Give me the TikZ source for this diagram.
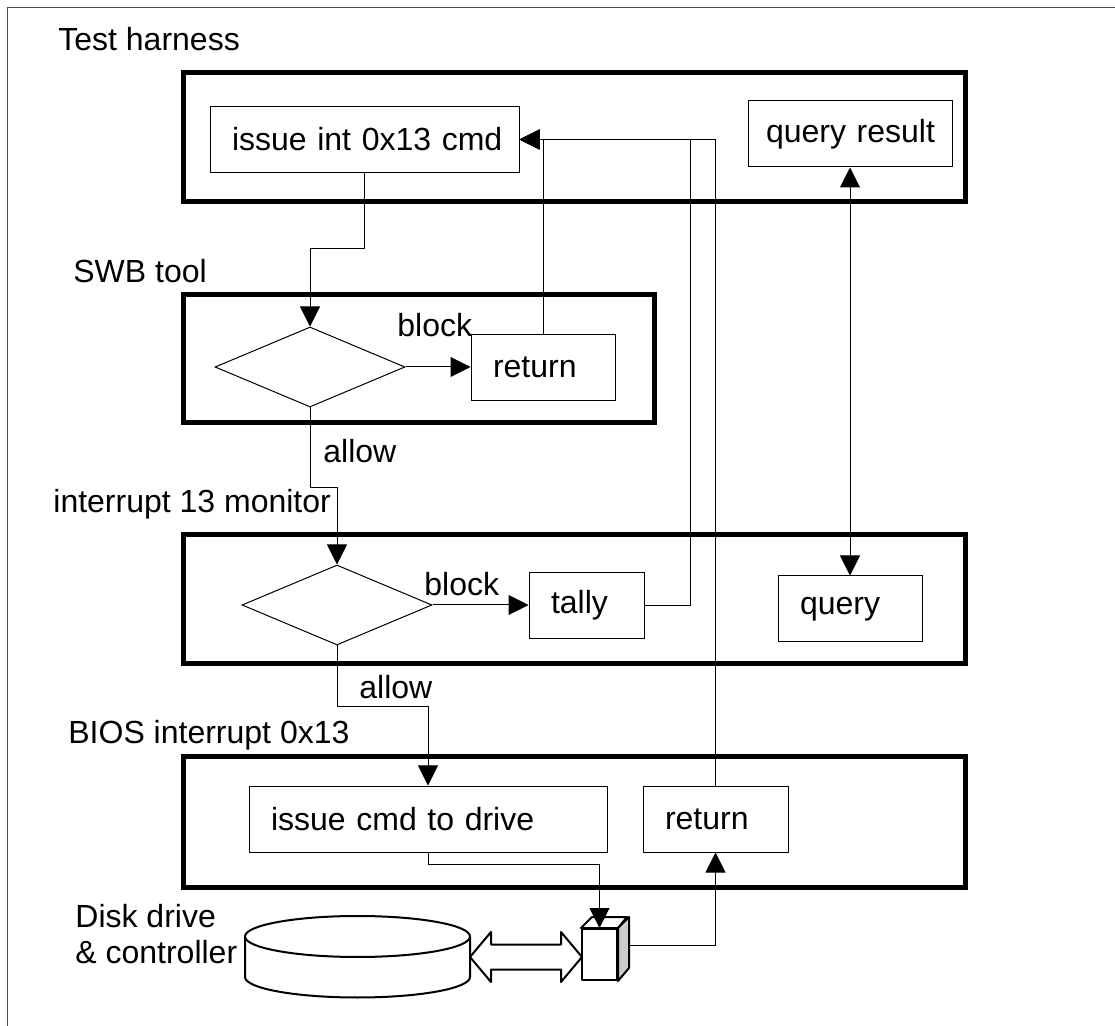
\documentclass[tikz,border=0pt]{standalone}
\usepackage{fontspec}
\setmainfont{Liberation Sans}
\usetikzlibrary{arrows.meta, shapes.geometric}

\tikzset{
    frame/.style = {line width = 2.5pt},
    box/.style = {draw, line width = .5pt, text width = #1, align = left, inner xsep = 11pt, inner ysep = 0pt, minimum height = 33pt,
        execute at begin node = \hbox\bgroup, execute at end node = \egroup},
    decide/.style = {diamond, draw, line width = .5pt, inner sep = 0pt, minimum width = 95pt, minimum height = 40pt},
    tag/.style = {anchor = base west, inner sep = 0pt},
    arr/.style = {line width = .5pt, -{Triangle[length = 10pt, width = 10pt]}},
    arrs/.style = {line width = .5pt, {Triangle[length = 10pt, width = 10pt]}-{Triangle[length = 10pt, width = 10pt]}},
    hw/.style = {line width = 1pt, fill = white, line join = round}
}

\begin{document}
\begin{tikzpicture}[x = .5pt, y = -.5pt, font = \fontsize{16}{18}\selectfont]
        \useasboundingbox (0, 0) rectangle (1115, 1026);
        \draw [line width = .5pt, black!70] (7, 1026) -- (7, 8) -- (1115, 8);
        % layers
        \draw [frame] (183, 73) rectangle (965, 202);
        \draw [frame] (183, 295) rectangle (654, 423);
        \draw [frame] (183, 535) rectangle (965, 664);
        \draw [frame] (183, 757) rectangle (965, 887);
        \node [tag] (thTag) at (58, 51) {Test harness};
        \node [tag] (swbTag) at (73, 283) {SWB tool};
        \node [tag] (monTag) at (53, 513) {interrupt 13 monitor};
        \node [tag] (biosTag) at (68, 743) {BIOS interrupt 0x13};
        \node [tag] (diskTag) at (75, 927) {Disk drive};
        \node [tag] (ctlTag) at (75, 963) {\& controller};
        % steps
        \node [box = 132.5pt] (issue) at (364.5, 139.5) {issue int 0x13 cmd};
        \node [box = 84pt, inner xsep = 9pt] (qres) at (850, 134) {query result};
        \node [decide] (d1) at (310, 367) {};
        \node [box = 50pt] (ret1) at (543, 367.5) {return};
        \node [decide] (d2) at (337, 605) {};
        \node [box = 35.5pt] (tally) at (586.5, 605.5) {tally};
        \node [box = 50pt] (query) at (850, 609) {query};
        \node [box = 157pt] (drive) at (428, 819) {issue cmd to drive};
        \node [box = 50.5pt] (ret2) at (715.5, 819) {return};
        \node [tag] (block1) at (397, 337) {block};
        \node [tag] (allow1) at (323, 463) {allow};
        \node [tag] (block2) at (424, 596) {block};
        \node [tag] (allow2) at (359, 698) {allow};
        % disk and controller
        \draw [hw] (245, 936.5) -- (245, 977) arc (180:360:56.25pt and 10.25pt) -- (470, 936.5);
        \draw [hw] (357.5, 936.5) ellipse (56.25pt and 10.25pt);
        \coordinate (disk) at (470, 957);
        \node [hw, draw, minimum width = 17.5pt, minimum height = 25.5pt, inner sep = 0pt] (ctl) at (599.5, 954.5) {};
        \draw [hw] (ctl.north west) -- ++(11, -11) -- ++(35, 0) -- (ctl.north east) -- cycle;
        \draw [hw, fill = gray!40] (ctl.north east) -- ++(11, -11) -- ++(0, 51) -- (ctl.south east) -- cycle;
        \begin{scope}[shift = {(disk)}]
            \draw [hw] (0, 0) -- (21, -25) -- (21, -12.5) -- (91, -12.5) -- (91, -25) -- (112, 0) -- (91, 25) -- (91, 12.5) -- (21, 12.5) -- (21, 25) -- cycle;
        \end{scope}
        % flow
        \draw [arr] (issue.south) -- ++(0, 76) -| (d1.north);
        \draw [arr] (d1.east) -- (d1.east -| ret1.west);
        \draw [arr] (ret1.north) |- (issue.east);
        \draw [arr] (tally.east) -- ++(46, 0) |- (issue.east);
        \draw [arr] (ret2.north) |- (issue.east);
        \draw [arrs] (qres.south) -- (query.north);
        \draw [arr] (d1.south) -- ++(0, 80) -| (d2.north);
        \draw [arr] (d2.east) -- (d2.east -| tally.west);
        \draw [arr] (d2.south) -- ++(0, 61) -| (drive.north);
        \draw [arr] (drive.south) -- ++(0, 12) -| (ctl.north);
        \draw [arr] ([xshift = 5.5pt, yshift = 4.75pt] ctl.east) -| (ret2.south);
    \end{tikzpicture}
\end{document}
